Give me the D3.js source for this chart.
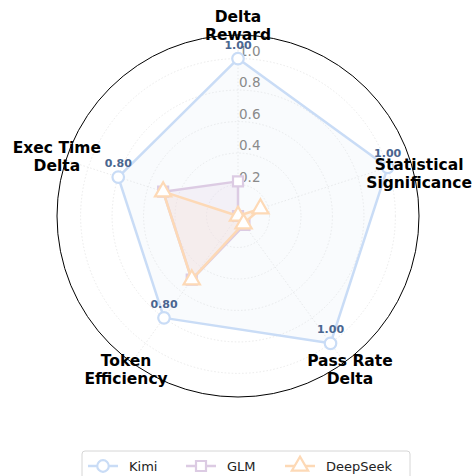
<!DOCTYPE html>
<html>
<head>
<meta charset="utf-8">
<script src="https://cdn.jsdelivr.net/npm/d3@7/dist/d3.min.js"></script>
<style>
  body { margin: 0; background: #fff; }
  svg { display: block; font-family: "DejaVu Sans", sans-serif; }
</style>
</head>
<body>
<div id="chart"></div>
<script>
// data
var categories = ["Delta\nReward", "Statistical\nSignificance", "Pass Rate\nDelta", "Token\nEfficiency", "Exec Time\nDelta"];
var kimi = [1.0, 1.0, 1.0, 0.8, 0.8];
var glm = [0.22, 0.0, 0.07, 0.5, 0.5];
var deepseek = [0.0, 0.15, 0.06, 0.5, 0.5];
var seriesNames = ["Kimi", "GLM", "DeepSeek"];
var rTicks = [0.2, 0.4, 0.6, 0.8, 1.0];

//Config
var width = 475, height = 476;
var cx = 238, cy = 216;
var colors = ["#c9dcf6", "#dccbe3", "#fdd9b6"];
var fills = ["#dbe6f6", "#e6d6ea", "#fde3cc"];
var fillOpacity = [0.17, 0.3, 0.22];
var symbols = [d3.symbolCircle, d3.symbolSquare, d3.symbolTriangle];
var symSize = [105, 100, 115];

var series = [kimi, glm, deepseek];

var svg = d3.select("#chart").append("svg")
  .attr("width", width)
  .attr("height", height);

var r = d3.scaleLinear().domain([0, 1.15]).range([0, 181]);
var angle = d3.scaleLinear().domain([0, categories.length]).range([0, 2 * Math.PI]);

var g = svg.append("g").attr("transform", "translate(" + cx + "," + cy + ")");

function px(i, v) { return r(v) * Math.sin(angle(i)); }
function py(i, v) { return -r(v) * Math.cos(angle(i)); }

// grid circles
g.selectAll(".ring")
  .data(rTicks)
  .enter()
  .append("circle")
  .attr("r", function(d) { return r(d); })
  .attr("fill", "none")
  .attr("stroke", "#e4e4e4")
  .attr("stroke-width", 0.8)
  .attr("stroke-dasharray", "1.5,2");

// spokes
g.selectAll(".spoke")
  .data(categories)
  .enter()
  .append("line")
  .attr("x1", 0).attr("y1", 0)
  .attr("x2", function(d, i) { return px(i, 1.15); })
  .attr("y2", function(d, i) { return py(i, 1.15); })
  .attr("stroke", "#e4e4e4")
  .attr("stroke-width", 0.8)
  .attr("stroke-dasharray", "1.5,2");

var line = d3.lineRadial()
  .angle(function(d, i) { return angle(i); })
  .radius(function(d) { return r(d); })
  .curve(d3.curveLinearClosed);

// fills
series.forEach(function(s, k) {
  g.append("path")
    .attr("d", line(s))
    .attr("fill", fills[k])
    .attr("fill-opacity", fillOpacity[k])
    .attr("stroke", "none");
});

// r tick labels
g.selectAll(".rlabel")
  .data(rTicks)
  .enter()
  .append("text")
  .attr("x", 1)
  .attr("y", function(d) { return -r(d) - 3; })
  .attr("font-size", "13.5px")
  .attr("fill", "#8a8a8a")
  .text(function(d) { return d.toFixed(1); });

// lines + markers
series.forEach(function(s, k) {
  g.append("path")
    .attr("d", line(s))
    .attr("fill", "none")
    .attr("stroke", colors[k])
    .attr("stroke-width", 2.5)
    .attr("stroke-linejoin", "round");

  g.selectAll(".m" + k)
    .data(s)
    .enter()
    .append("path")
    .attr("d", d3.symbol().type(symbols[k]).size(symSize[k]))
    .attr("transform", function(d, i) { return "translate(" + px(i, d) + "," + py(i, d) + ")"; })
    .attr("fill", "#fff")
    .attr("stroke", colors[k])
    .attr("stroke-width", 2.2);
});

// outer frame
g.append("circle")
  .attr("r", r(1.15))
  .attr("fill", "none")
  .attr("stroke", "#000")
  .attr("stroke-width", 1);

// value labels for Kimi
g.selectAll(".val")
  .data(kimi)
  .enter()
  .append("text")
  .attr("x", function(d, i) { return px(i, d); })
  .attr("y", function(d, i) { return py(i, d) - 10; })
  .attr("text-anchor", "middle")
  .attr("font-size", "11px")
  .attr("font-weight", "bold")
  .attr("fill", "#4a6690")
  .text(function(d) { return d.toFixed(2); });

// axis labels
var nudge = [0, 17, 0, 0, 0];
var labels = g.selectAll(".axlabel")
  .data(categories)
  .enter()
  .append("text")
  .attr("text-anchor", "middle")
  .attr("font-size", "15.5px")
  .attr("font-weight", "bold")
  .attr("fill", "#000");

labels.each(function(d, i) {
  var parts = d.split("\n");
  var x = px(i, 1.21), y = py(i, 1.21) + nudge[i];
  d3.select(this).selectAll("tspan")
    .data(parts)
    .enter()
    .append("tspan")
    .attr("x", x)
    .attr("y", function(p, j) { return y + (j - (parts.length - 1) / 2) * 18 + 5; })
    .text(function(p) { return p; });
});

// legend
var legend = svg.append("g").attr("transform", "translate(82,451)");
legend.append("rect")
  .attr("width", 328)
  .attr("height", 32)
  .attr("rx", 3)
  .attr("fill", "#fff")
  .attr("stroke", "#d6d6d6");

var legX = [6, 104, 203];
var item = legend.selectAll(".leg")
  .data(seriesNames)
  .enter()
  .append("g")
  .attr("transform", function(d, i) { return "translate(" + legX[i] + ",15)"; });

item.append("line")
  .attr("x1", 0).attr("x2", 30)
  .attr("stroke", function(d, i) { return colors[i]; })
  .attr("stroke-width", 2.5);
item.append("path")
  .attr("d", function(d, i) { return d3.symbol().type(symbols[i]).size(symSize[i])(); })
  .attr("transform", "translate(15,0)")
  .attr("fill", "#fff")
  .attr("stroke", function(d, i) { return colors[i]; })
  .attr("stroke-width", 2.2);
item.append("text")
  .attr("x", 41)
  .attr("y", 5)
  .attr("font-size", "13px")
  .attr("fill", "#222")
  .text(function(d) { return d; });
</script>
</body>
</html>
